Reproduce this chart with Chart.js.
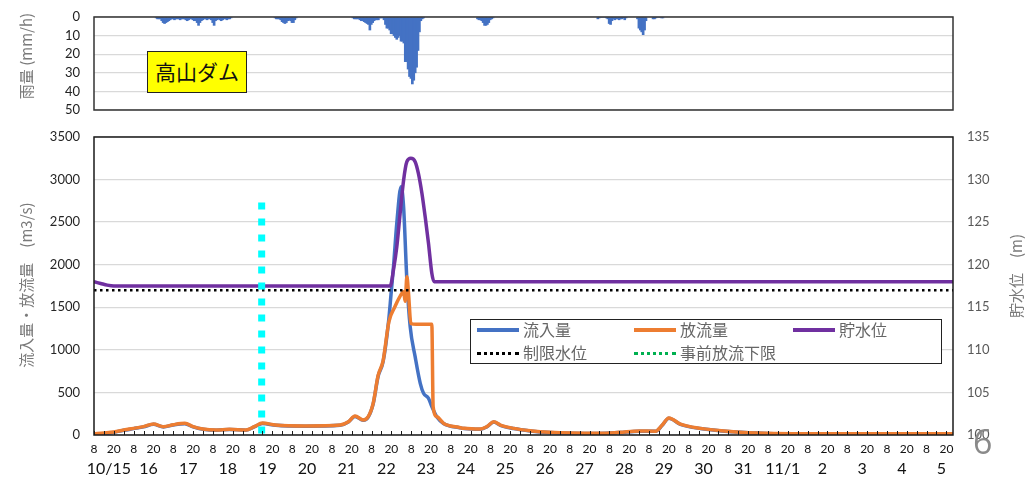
<!DOCTYPE html>
<html>
<head>
<meta charset="utf-8">
<script src="https://cdn.jsdelivr.net/npm/chart.js@4.4.0/dist/chart.umd.min.js"></script>
<style>
  body { margin: 0; background: #fff; }
  #page { position: relative; width: 1025px; height: 478px; overflow: hidden; background: #fff; }
  canvas { position: absolute; left: 0; }
  .ttl {
    position: absolute; color: #7a7a7a; font-size: 15px; white-space: nowrap; line-height: 1;
    font-family: "Noto Sans CJK JP", sans-serif;
    transform: translate(-50%, -50%) rotate(-90deg);
  }
  #dam {
    position: absolute; left: 147px; top: 51px; width: 100px; height: 42px; box-sizing: border-box;
    background: #ffff00; border: 1.5px solid #222; font-family: "Noto Sans CJK JP", sans-serif;
    font-size: 21px; line-height: 38px; text-align: center; color: #111;
  }
  #legend {
    position: absolute; left: 470px; top: 319px; width: 472px; height: 45px; box-sizing: border-box;
    background: #fff; border: 1.5px solid #222;
    font-family: "Noto Sans CJK JP", sans-serif; font-size: 16px; color: #666;
  }
  #legend .sw { position: absolute; width: 42px; height: 0; }
  #legend .tx { position: absolute; line-height: 1; white-space: nowrap; }
  #pg { position: absolute; left: 973px; top: 424px; font-family: "Open Sans", sans-serif; font-size: 34px; color: #8a8a8a; line-height: 1; }
</style>
</head>
<body>
<div id="page">
  <canvas id="rainChart" width="1025" height="118" style="top:0"></canvas>
  <canvas id="flowChart" width="1025" height="358" style="top:120px"></canvas>
  <div class="ttl" style="left:25px;top:56px">雨量 (mm/h)</div>
  <div class="ttl" style="left:25px;top:285px">流入量・放流量　(m3/s)</div>
  <div class="ttl" style="left:1015px;top:276px">貯水位　(m)</div>
  <div id="dam">高山ダム</div>
  <div id="legend"></div>
  <div id="pg">6</div>
</div>
<script>
// hours are counted from 10/15 8:00
var X_MAX = 520;
var X_TICK_LABELS = ['8', '20'];
var DAY_LABELS = ['10/15', '16', '17', '18', '19', '20', '21', '22', '23', '24', '25',
  '26', '27', '28', '29', '30', '31', '11/1', '2', '3', '4', '5'];

// rainfall (mm/h), hourly runs starting at RAIN_START
var RAIN_START = [0, 84, 139, 227, 312, 340, 351];
var RAIN_MM = [
  [0.5, 1, 1, 1, 2, 3, 3.5, 3, 2.5, 2, 1.5, 1, 1, 1.5, 1, 1, 1, 1.5, 1, 1, 1, 1.5, 2, 1.5, 1, 1, 1.5,
   2, 2, 3, 4.5, 3, 2, 1.5, 1, 1, 1.5, 1, 1, 1.5, 3, 4.5, 2, 1.5, 1, 1.5, 2, 1.5, 1, 1, 1.5, 1, 1, 0.5],
  [0.5, 1, 1, 1, 1.5, 2.5, 3, 3.5, 3, 2, 1.5, 2, 3, 3, 1.5, 0.5],
  [0.5, 1, 1, 1, 1, 1.5, 2, 2, 2.5, 3, 3.5, 4, 7, 4, 3, 2, 1.5, 1.5, 1.5, 0.5, 0.5, 0.5, 1.5,
   4, 6, 6, 7, 9, 9, 10, 11, 12, 11, 10, 13, 13, 14, 24, 24, 28, 32, 33, 36, 34, 30, 27, 18, 8, 2, 1, 0.5],
  [1, 1.5, 1.5, 2, 3, 4.5, 4.5, 4, 3, 1.5, 1, 0.5],
  [1, 0.5, 0, 0, 0, 0, 0.5, 1, 3.5, 4, 2, 1, 1.5, 1, 1, 1.5, 1, 1, 0.5, 1.5, 0.5],
  [1, 6, 7, 8, 9.5, 7, 2],
  [1, 1, 0.5, 0, 0, 0, 0.5, 0.5]
];

// inflow (m3/s)
var INFLOW_H = [0, 6, 10, 18, 24, 30, 36, 42, 48, 55, 60, 66, 74, 82, 92, 97, 102, 110, 128, 149, 154, 158,
  163, 166, 169, 172, 175, 178.3, 179.8, 181.3, 183.3, 185.9, 187.4, 189.4, 191.4, 194.4, 197.5, 199.5,
  202.5, 204.5, 207.6, 211.6, 215, 220.7, 224, 234, 238, 242, 246, 254, 264, 276, 306, 318, 330, 340,
  344, 348, 355, 367, 387, 407, 430, 520];
var INFLOW_Q = [5, 15, 25, 55, 75, 95, 125, 95, 118, 133, 95, 68, 57, 64, 57, 95, 135, 114, 104, 114, 152, 218,
  172, 210, 365, 690, 860, 1330, 1650, 1977, 2487, 2917, 2682, 1820, 1272, 920, 607, 490,
  431, 333, 212, 135, 108, 88, 76, 68, 98, 153, 114, 76, 48, 29, 18, 29, 45, 43,
  114, 196, 126, 76, 37, 18, 13, 13];

// outflow (m3/s)
var OUTFLOW_H = [0, 6, 10, 18, 24, 30, 36, 42, 48, 55, 60, 66, 74, 82, 92, 97, 102, 110, 128, 149, 154, 158,
  163, 166, 169, 172, 175, 178.5, 182, 185, 187.4, 188.4, 189.4, 190.4, 191.8, 195, 204.5, 205.3, 207.6,
  211.6, 215, 220.7, 224, 234, 238, 242, 246, 254, 264, 276, 306, 318, 330, 340, 344, 348, 355, 367,
  387, 407, 430, 520];
var OUTFLOW_Q = [12, 25, 31, 59, 78, 98, 129, 98, 121, 137, 98, 70, 59, 67, 59, 98, 140, 117, 106, 117, 156, 223,
  176, 215, 372, 700, 870, 1330, 1500, 1620, 1683, 1570, 1860, 1664, 1310, 1300, 1300, 333, 215,
  137, 110, 90, 78, 70, 100, 156, 117, 78, 50, 31, 20, 31, 47, 45, 117, 200, 129, 78,
  39, 20, 15, 15];

// reservoir level (m)
var LEVEL_H = [0, 4, 8, 12, 179.3, 181.3, 183.3, 185.3, 187.4, 189.4, 191.8, 194.4, 196.4, 198.5, 200.5,
  202.5, 204.5, 205.9, 520];
var LEVEL_M = [118.0, 117.8, 117.6, 117.5, 117.5, 119.4, 122.1, 126.0, 129.9, 132.1, 132.5, 132.1, 130.7,
  128.4, 125.6, 122.5, 119.0, 118.0, 118.0];

var LIMIT_LEVEL = 117.0;          // 制限水位
var PRE_RELEASE_HOUR = 101.5;     // 事前放流下限 marker
var PRE_RELEASE_TOP = 2730;

var FONT = 'Lato, "Noto Sans CJK JP", sans-serif';

function pts(xs, ys) {
  return xs.map(function (x, i) { return { x: x, y: ys[i] }; });
}

function rainPoints() {
  var out = [];
  RAIN_START.forEach(function (s, k) {
    RAIN_MM[k].forEach(function (v, i) { out.push({ x: s + i + 0.5, y: v }); });
  });
  return out;
}

// pin axis sizes so the plot areas land where the reference has them
function fixW(w) {
  return function (s) { s.width = w; s.paddingTop = 0; s.paddingBottom = 0; };
}
function fixH(h) {
  return function (s) { s.height = h; s.paddingLeft = 0; s.paddingRight = 0; };
}
function plain(v) { return String(v); }

var plotFrame = {
  id: 'plotFrame',
  afterDatasetsDraw: function (chart, args, opts) {
    var a = chart.chartArea, ctx = chart.ctx;
    ctx.save();
    ctx.strokeStyle = opts.color || '#222';
    ctx.lineWidth = opts.width || 1.5;
    ctx.strokeRect(a.left, a.top, a.right - a.left, a.bottom - a.top);
    if (opts.minor) {
      var xs = chart.scales.x;
      ctx.lineWidth = 1;
      for (var h = 0; h <= X_MAX; h += opts.minor) {
        var px = Math.round(xs.getPixelForValue(h)) + 0.5;
        ctx.beginPath();
        ctx.moveTo(px, a.bottom);
        ctx.lineTo(px, a.bottom - 4);
        ctx.stroke();
      }
    }
    ctx.restore();
  }
};

// rainfall chart
new Chart(document.getElementById('rainChart'), {
  type: 'bar',
  data: {
    datasets: [{
      label: '雨量', data: rainPoints(),
      backgroundColor: '#4472c4', borderWidth: 0, barThickness: 2
    }]
  },
  options: {
    responsive: false, animation: false, events: [],
    layout: { padding: { top: 17, bottom: 8, left: 0, right: 72 } },
    plugins: { legend: { display: false }, tooltip: { enabled: false },
      plotFrame: { color: '#333', width: 1.5 } },
    scales: {
      x: { type: 'linear', min: 0, max: X_MAX, display: false, afterFit: fixH(0) },
      y: {
        reverse: true, min: 0, max: 50,
        afterFit: fixW(94),
        ticks: { stepSize: 10, padding: 14, color: '#222', font: { family: FONT, size: 13 }, callback: plain },
        grid: { color: '#d9d9d9', lineWidth: 1.3, drawTicks: false },
        border: { display: false }
      }
    }
  },
  plugins: [plotFrame]
});

// flow / level chart
new Chart(document.getElementById('flowChart'), {
  type: 'line',
  data: {
    datasets: [
      { label: '流入量', data: pts(INFLOW_H, INFLOW_Q), yAxisID: 'y', order: 5,
        borderColor: '#4472c4', borderWidth: 3.5, pointRadius: 0, cubicInterpolationMode: 'monotone' },
      { label: '放流量', data: pts(OUTFLOW_H, OUTFLOW_Q), yAxisID: 'y', order: 4,
        borderColor: '#ed7d31', borderWidth: 3.5, pointRadius: 0, cubicInterpolationMode: 'monotone' },
      { label: '貯水位', data: pts(LEVEL_H, LEVEL_M), yAxisID: 'y1', order: 3,
        borderColor: '#7030a0', borderWidth: 3.5, pointRadius: 0, cubicInterpolationMode: 'monotone' },
      { label: '制限水位', data: [{ x: 0, y: LIMIT_LEVEL }, { x: X_MAX, y: LIMIT_LEVEL }], yAxisID: 'y1', order: 2,
        borderColor: '#000', borderWidth: 2.5, borderDash: [2.5, 3.5], pointRadius: 0 },
      { label: '事前放流下限', data: [{ x: PRE_RELEASE_HOUR, y: PRE_RELEASE_TOP }, { x: PRE_RELEASE_HOUR, y: 0 }],
        yAxisID: 'y', order: 1,
        borderColor: '#00ffff', borderWidth: 7, borderDash: [7, 9], pointRadius: 0 }
    ]
  },
  options: {
    responsive: false, animation: false, events: [],
    layout: { padding: { top: 17, bottom: 0, left: 0, right: 0 } },
    plugins: { legend: { display: false }, tooltip: { enabled: false },
      plotFrame: { color: '#1a1a1a', width: 1.5, minor: 6 } },
    scales: {
      x: {
        type: 'linear', min: 0, max: X_MAX, position: 'bottom', weight: 0,
        afterFit: fixH(22),
        afterBuildTicks: function (s) {
          var t = [];
          for (var h = 0; h <= X_MAX; h += 12) t.push({ value: h });
          s.ticks = t;
        },
        ticks: {
          autoSkip: false, maxRotation: 0, padding: 7, color: '#111', font: { family: FONT, size: 12 },
          callback: function (v, i) { return X_TICK_LABELS[i % 2]; }
        },
        grid: { display: false, drawTicks: false },
        border: { display: false }
      },
      xd: {
        type: 'linear', min: 0, max: X_MAX, position: 'bottom', weight: 1,
        afterFit: fixH(21),
        afterBuildTicks: function (s) {
          s.ticks = DAY_LABELS.map(function (d, i) { return { value: i * 24 + 9 }; });
        },
        ticks: {
          autoSkip: false, maxRotation: 0, padding: 2, color: '#111', font: { family: FONT, size: 16 },
          callback: function (v, i) { return DAY_LABELS[i]; }
        },
        grid: { display: false, drawTicks: false },
        border: { display: false }
      },
      y: {
        position: 'left', min: 0, max: 3500,
        afterFit: fixW(94),
        ticks: { stepSize: 500, padding: 14, color: '#262626', font: { family: FONT, size: 13 }, callback: plain },
        grid: { color: '#d9d9d9', lineWidth: 1.3, drawTicks: false },
        border: { display: false }
      },
      y1: {
        position: 'right', min: 100, max: 135,
        afterFit: fixW(72),
        ticks: { stepSize: 5, padding: 14, color: '#595959', font: { family: FONT, size: 13 }, callback: plain },
        grid: { drawOnChartArea: false, drawTicks: false },
        border: { display: false }
      }
    }
  },
  plugins: [plotFrame]
});

// legend box inside the plot
var LEGEND_ITEMS = [
  { label: '流入量', color: '#4472c4', dotted: false, left: 6, row: 0 },
  { label: '放流量', color: '#ed7d31', dotted: false, left: 163, row: 0 },
  { label: '貯水位', color: '#7030a0', dotted: false, left: 322, row: 0 },
  { label: '制限水位', color: '#000000', dotted: true, left: 6, row: 1 },
  { label: '事前放流下限', color: '#00b050', dotted: true, left: 163, row: 1 }
];
var leg = document.getElementById('legend');
LEGEND_ITEMS.forEach(function (it) {
  var cy = it.row === 0 ? 10 : 33;
  var sw = document.createElement('div');
  sw.className = 'sw';
  sw.style.left = it.left + 'px';
  if (it.dotted) {
    sw.style.top = (cy - 1) + 'px';
    sw.style.borderTop = '3px dotted ' + it.color;
  } else {
    sw.style.top = (cy - 2) + 'px';
    sw.style.borderTop = '4px solid ' + it.color;
  }
  leg.appendChild(sw);
  var tx = document.createElement('div');
  tx.className = 'tx';
  tx.textContent = it.label;
  tx.style.left = (it.left + 46) + 'px';
  tx.style.top = (cy - 9) + 'px';
  leg.appendChild(tx);
});
</script>
</body>
</html>
